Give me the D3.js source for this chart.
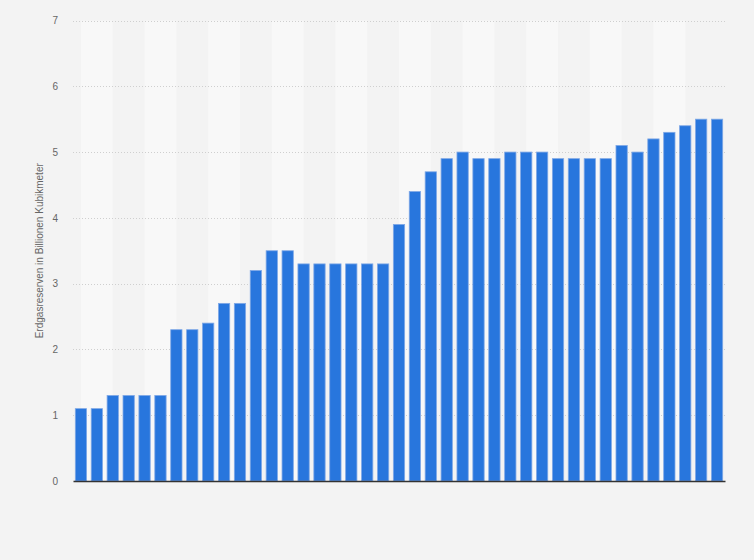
<!DOCTYPE html>
<html>
<head>
<meta charset="utf-8">
<script src="https://cdn.jsdelivr.net/npm/d3@7"></script>
<style>
  body { margin: 0; background: #f3f3f3; }
  svg { display: block; font-family: "Liberation Sans", Arial, sans-serif; }
</style>
</head>
<body>
<div id="chart"></div>
<script>
// years shown as categories (axis labels hidden in the original)
var years = ["1980","1981","1982","1983","1984","1985","1986","1987","1988","1989",
             "1990","1991","1992","1993","1994","1995","1996","1997","1998","1999",
             "2000","2001","2002","2003","2004","2005","2006","2007","2008","2009",
             "2010","2011","2012","2013","2014","2015","2016","2017","2018","2019","2020"];
var reserves = [1.1,1.1,1.3,1.3,1.3,1.3,2.3,2.3,2.4,2.7,
                2.7,3.2,3.5,3.5,3.3,3.3,3.3,3.3,3.3,3.3,
                3.9,4.4,4.7,4.9,5.0,4.9,4.9,5.0,5.0,5.0,
                4.9,4.9,4.9,4.9,5.1,5.0,5.2,5.3,5.4,5.5,5.5];
var yTicks = [0,1,2,3,4,5,6,7];
var yTitle = "Erdgasreserven in Billionen Kubikmeter";

var width = 754, height = 560;
var margin = {top: 20.5, right: 29, bottom: 79, left: 73};

var svg = d3.select("#chart").append("svg")
    .attr("width", width)
    .attr("height", height);

var x = d3.scaleBand()
    .domain(years)
    .range([margin.left, width - margin.right])
    .paddingInner(0.29)
    .paddingOuter(0.145);

var y = d3.scaleLinear()
    .domain([0, 7])
    .range([height - margin.bottom, margin.top]);

// alternating light column bands, from centre of one bar to centre of the bar two over
var bands = years.filter(function(d, i){ return i % 4 == 0 && i + 2 < years.length; });
svg.append("g").selectAll("rect")
  .data(bands)
  .enter().append("rect")
    .attr("x", function(d){ return x(d) + x.bandwidth()/2; })
    .attr("width", x.step() * 2)
    .attr("y", y(7))
    .attr("height", y(0) - y(7))
    .attr("fill", "#f8f8f8");

// grid lines
svg.append("g").selectAll("line")
  .data(yTicks.filter(function(d){ return d > 0; }))
  .enter().append("line")
    .attr("x1", margin.left)
    .attr("x2", width - margin.right)
    .attr("y1", function(d){ return Math.round(y(d)) + 0.5; })
    .attr("y2", function(d){ return Math.round(y(d)) + 0.5; })
    .attr("stroke", "#cfcfcf")
    .attr("stroke-dasharray", "1,2");

// y axis labels
var yAxis = d3.axisLeft(y).tickValues(yTicks).tickFormat(d3.format("d")).tickSize(0).tickPadding(0);
var gy = svg.append("g")
    .attr("transform", "translate(" + (margin.left - 15) + ",0)")
    .call(yAxis);
gy.select(".domain").remove();
gy.selectAll("text")
    .attr("fill", "#666")
    .style("font-size", "10px");

// bars
svg.append("g").selectAll("rect")
  .data(reserves)
  .enter().append("rect")
    .attr("x", function(d, i){ return x(years[i]); })
    .attr("width", x.bandwidth())
    .attr("y", function(d){ return y(d); })
    .attr("height", function(d){ return y(0) - y(d); })
    .attr("fill", "#2876dd")
    .attr("stroke", "#7fa8e6")
    .attr("stroke-width", 0.8);

// x axis line
var xAxis = d3.axisBottom(x).tickSize(0).tickFormat("");
var gx = svg.append("g")
    .attr("transform", "translate(0," + y(0) + ")")
    .call(xAxis);
gx.select(".domain")
    .attr("stroke", "#333")
    .attr("stroke-width", 1.5);

// y axis title
svg.append("text")
    .attr("transform", "translate(43," + ((y(0) + y(7)) / 2) + ") rotate(-90)")
    .attr("text-anchor", "middle")
    .attr("fill", "#666")
    .style("font-size", "10px")
    .text(yTitle);
</script>
</body>
</html>
